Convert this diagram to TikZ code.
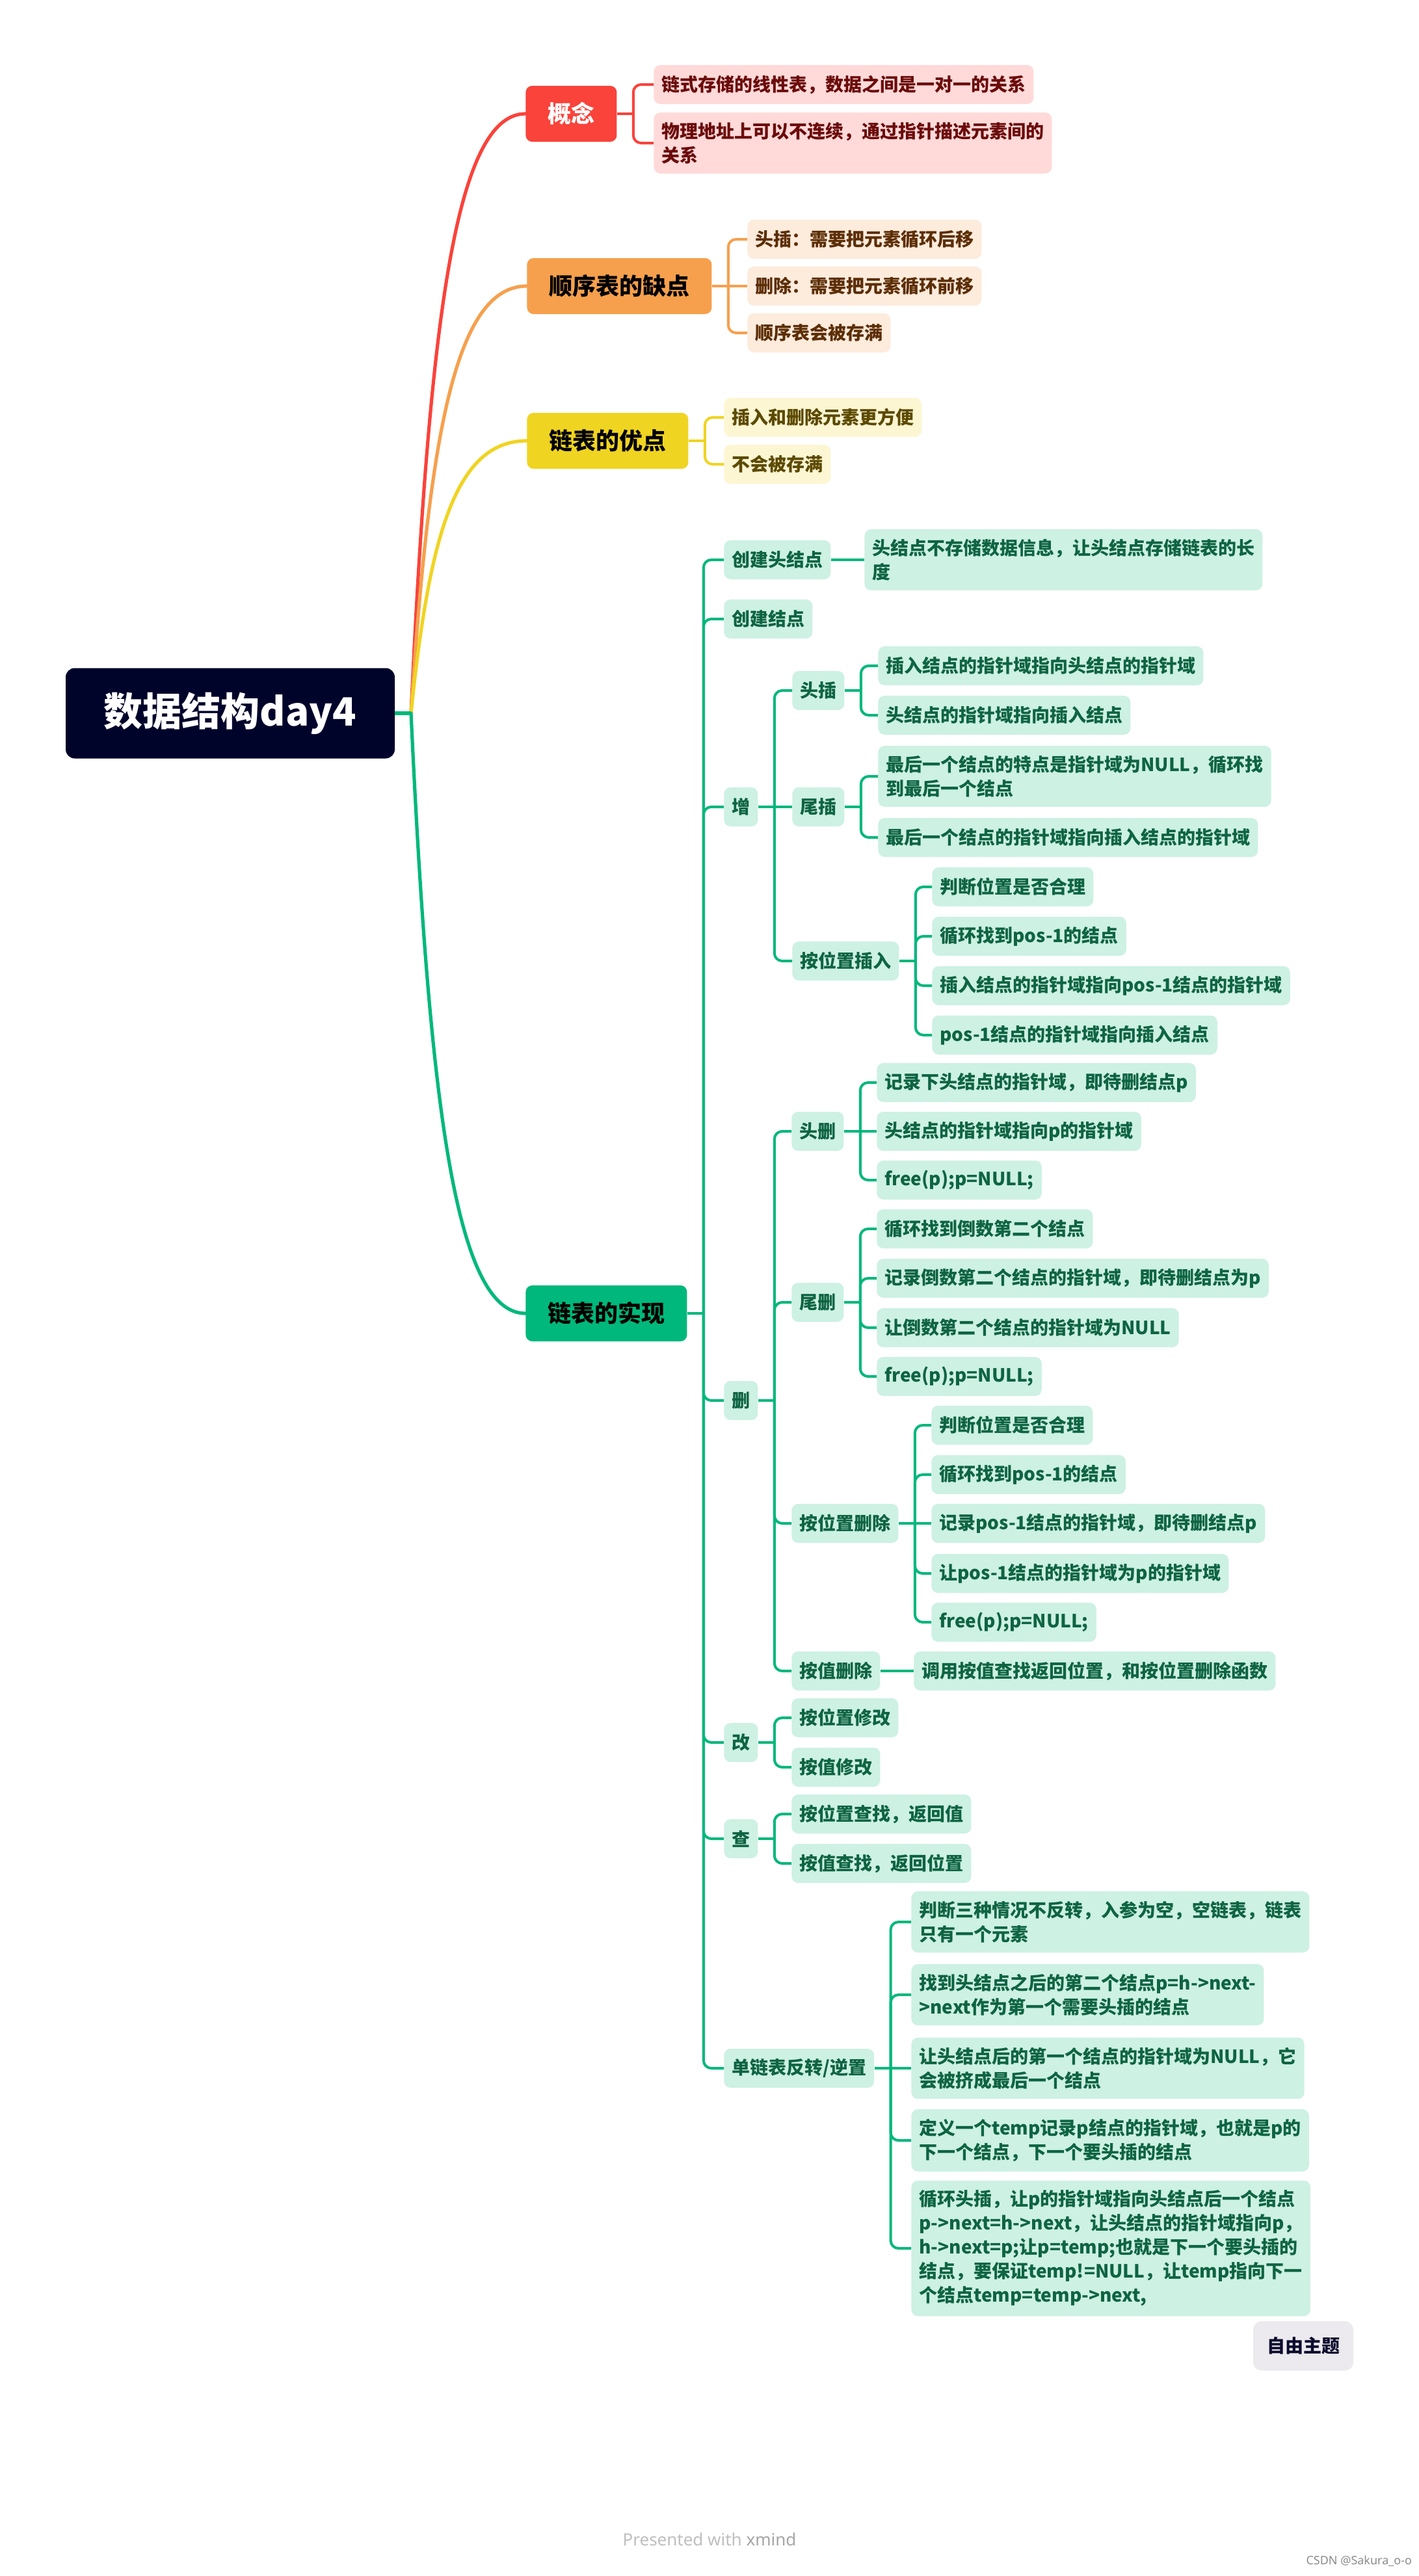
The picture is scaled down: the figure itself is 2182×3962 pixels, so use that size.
\documentclass[tikz,border=0pt]{standalone}
\usepackage{fontspec}
\setmainfont{Noto Sans CJK SC}
\newfontfamily\latinfont{Noto Sans}
\definecolor{rootc}{HTML}{00032A}
\definecolor{redM}{HTML}{F9433B}
\definecolor{redL}{HTML}{FFDAD9}
\definecolor{redT}{HTML}{6B0B0B}
\definecolor{orgM}{HTML}{F6A04D}
\definecolor{orgL}{HTML}{FDEBDC}
\definecolor{orgT}{HTML}{5C2E05}
\definecolor{yelM}{HTML}{F0D422}
\definecolor{yelL}{HTML}{FDF6D3}
\definecolor{yelT}{HTML}{5C4A00}
\definecolor{grnM}{HTML}{00B87B}
\definecolor{grnL}{HTML}{CDF1E3}
\definecolor{grnT}{HTML}{0E6443}
\definecolor{freeL}{HTML}{ECEAEE}
\definecolor{freeT}{HTML}{0B0B2E}
\tikzset{
  leaf/.style={rounded corners=5pt, inner xsep=6pt, inner ysep=7.5pt, minimum height=30pt,
    anchor=west, align=left, font=\bfseries\fontsize{14}{18.5}\selectfont},
  rleaf/.style={leaf, fill=redL, text=redT},
  oleaf/.style={leaf, fill=orgL, text=orgT},
  yleaf/.style={leaf, fill=yelL, text=yelT},
  gleaf/.style={leaf, fill=grnL, text=grnT},
  mainbox/.style={rounded corners=5pt, inner xsep=17pt, minimum height=43pt, anchor=west,
    font=\bfseries\fontsize{18}{22}\selectfont},
  curve/.style={line width=2.6pt, line cap=round},
  conn/.style={line width=2pt},
}
\newcommand\branch[3]{%
  \draw[conn,#1] (#2.east) -- ++(25,0);
  \foreach \cc in {#3} {\draw[conn,#1,rounded corners=6pt] (#2.east) ++(25,0) |- (\cc.west);}%
}
\begin{document}
\begin{tikzpicture}[x=0.5pt,y=-0.5pt]
\useasboundingbox (0,0) rectangle (2182,3962);
\fill[white] (0,0) rectangle (2182,3962);

% root
\node[fill=rootc, text=white, rounded corners=7pt, minimum width=253pt, minimum height=69.5pt,
  font=\bfseries\fontsize{30}{34}\selectfont] (root) at (354,1097) {数据结构day4};
\coordinate (hub) at (632,1097);

% main branches
\node[mainbox, fill=redM, text=white] (gn) at (808,175) {概念};
\node[mainbox, fill=orgM, text=black] (qd) at (810,440) {顺序表的缺点};
\node[mainbox, fill=yelM, text=black] (yd) at (810,678) {链表的优点};
\node[mainbox, fill=grnM, text=black] (sx) at (808,2020) {链表的实现};

\draw[curve, redM] (hub) .. controls (660,497) and (700,175) .. (gn.west);
\draw[curve, orgM] (hub) .. controls (660,670) and (700,440) .. (qd.west);
\draw[curve, yelM] (hub) .. controls (660,825) and (700,678) .. (yd.west);
\draw[curve, grnM] (hub) .. controls (660,1697) and (700,2020) .. (sx.west);
\draw[curve, grnM, line cap=butt] (root.east) -- (hub);

% 概念
\node[rleaf] (r1) at (1005,130) {链式存储的线性表，数据之间是一对一的关系};
\node[rleaf] (r2) at (1005,220) {物理地址上可以不连续，通过指针描述元素间的\\关系};
\branch{redM}{gn}{r1,r2}

% 顺序表的缺点
\node[oleaf] (o1) at (1149,368) {头插：需要把元素循环后移};
\node[oleaf] (o2) at (1149,440) {删除：需要把元素循环前移};
\node[oleaf] (o3) at (1149,512) {顺序表会被存满};
\branch{orgM}{qd}{o1,o3}
\draw[conn, orgM] (qd.east) -- (o2.west);

% 链表的优点
\node[yleaf] (y1) at (1113,642) {插入和删除元素更方便};
\node[yleaf] (y2) at (1113,714) {不会被存满};
\branch{yelM}{yd}{y1,y2}

% 链表的实现 - level 1
\node[gleaf] (g1) at (1113,861) {创建头结点};
\node[gleaf] (g2) at (1113,952) {创建结点};
\node[gleaf] (g3) at (1113,1241) {增};
\node[gleaf] (g4) at (1113,2154) {删};
\node[gleaf] (g5) at (1113,2680) {改};
\node[gleaf] (g6) at (1113,2828) {查};
\node[gleaf] (g7) at (1113,3181) {单链表反转/逆置};
\branch{grnM}{sx}{g1,g2,g3,g4,g5,g6,g7}

\node[gleaf] (g1a) at (1329,861) {头结点不存储数据信息，让头结点存储链表的长\\度};
\draw[conn, grnM] (g1.east) -- (g1a.west);

% 增
\node[gleaf] (hc) at (1218,1062) {头插};
\node[gleaf] (wc) at (1218,1241) {尾插};
\node[gleaf] (ac) at (1218,1478) {按位置插入};
\branch{grnM}{g3}{hc,ac}
\draw[conn, grnM] (g3.east) -- (wc.west);

\node[gleaf] (hc1) at (1350,1024) {插入结点的指针域指向头结点的指针域};
\node[gleaf] (hc2) at (1350,1100) {头结点的指针域指向插入结点};
\branch{grnM}{hc}{hc1,hc2}

\node[gleaf] (wc1) at (1350,1194) {最后一个结点的特点是指针域为NULL，循环找\\到最后一个结点};
\node[gleaf] (wc2) at (1350,1288) {最后一个结点的指针域指向插入结点的指针域};
\branch{grnM}{wc}{wc1,wc2}

\node[gleaf] (ac1) at (1433,1364) {判断位置是否合理};
\node[gleaf] (ac2) at (1433,1440) {循环找到pos-1的结点};
\node[gleaf] (ac3) at (1433,1516) {插入结点的指针域指向pos-1结点的指针域};
\node[gleaf] (ac4) at (1433,1592) {pos-1结点的指针域指向插入结点};
\branch{grnM}{ac}{ac1,ac2,ac3,ac4}

% 删
\node[gleaf] (hs) at (1217,1740) {头删};
\node[gleaf] (ws) at (1217,2003) {尾删};
\node[gleaf] (as) at (1217,2343) {按位置删除};
\node[gleaf] (vs) at (1217,2570) {按值删除};
\branch{grnM}{g4}{hs,ws,as,vs}

\node[gleaf] (hs1) at (1348,1665) {记录下头结点的指针域，即待删结点p};
\node[gleaf] (hs2) at (1348,1740) {头结点的指针域指向p的指针域};
\node[gleaf] (hs3) at (1348,1815) {free(p);p=NULL;};
\branch{grnM}{hs}{hs1,hs3}
\draw[conn, grnM] (hs.east) -- (hs2.west);

\node[gleaf] (ws1) at (1348,1890) {循环找到倒数第二个结点};
\node[gleaf] (ws2) at (1348,1966) {记录倒数第二个结点的指针域，即待删结点为p};
\node[gleaf] (ws3) at (1348,2042) {让倒数第二个结点的指针域为NULL};
\node[gleaf] (ws4) at (1348,2117) {free(p);p=NULL;};
\branch{grnM}{ws}{ws1,ws2,ws3,ws4}

\node[gleaf] (as1) at (1432,2192) {判断位置是否合理};
\node[gleaf] (as2) at (1432,2268) {循环找到pos-1的结点};
\node[gleaf] (as3) at (1432,2343) {记录pos-1结点的指针域，即待删结点p};
\node[gleaf] (as4) at (1432,2420) {让pos-1结点的指针域为p的指针域};
\node[gleaf] (as5) at (1432,2495) {free(p);p=NULL;};
\branch{grnM}{as}{as1,as2,as4,as5}
\draw[conn, grnM] (as.east) -- (as3.west);

\node[gleaf] (vs1) at (1405,2570) {调用按值查找返回位置，和按位置删除函数};
\draw[conn, grnM] (vs.east) -- (vs1.west);

% 改
\node[gleaf] (m1) at (1217,2642) {按位置修改};
\node[gleaf] (m2) at (1217,2718) {按值修改};
\branch{grnM}{g5}{m1,m2}

% 查
\node[gleaf] (c1) at (1217,2790) {按位置查找，返回值};
\node[gleaf] (c2) at (1217,2866) {按值查找，返回位置};
\branch{grnM}{g6}{c1,c2}

% 单链表反转/逆置
\node[gleaf] (n1) at (1401,2956) {判断三种情况不反转，入参为空，空链表，链表\\只有一个元素};
\node[gleaf] (n2) at (1401,3068) {找到头结点之后的第二个结点p=h->next-\\>next作为第一个需要头插的结点};
\node[gleaf] (n3) at (1401,3181) {让头结点后的第一个结点的指针域为NULL，它\\会被挤成最后一个结点};
\node[gleaf] (n4) at (1401,3292) {定义一个temp记录p结点的指针域，也就是p的\\下一个结点，下一个要头插的结点};
\node[gleaf] (n5) at (1401,3458) {循环头插，让p的指针域指向头结点后一个结点\\p->next=h->next，让头结点的指针域指向p，\\h->next=p;让p=temp;也就是下一个要头插的\\结点，要保证temp!=NULL，让temp指向下一\\个结点temp=temp->next,};
\branch{grnM}{g7}{n1,n2,n4,n5}
\draw[conn, grnM] (g7.east) -- (n3.west);

% 自由主题
\node[fill=freeL, text=freeT, rounded corners=6.5pt, inner xsep=10.5pt, minimum height=38pt,
  font=\bfseries\fontsize{14}{18}\selectfont] (free) at (2004,3608) {自由主题};

% footer
\node[text=black!25, font=\latinfont\fontsize{13}{15}\selectfont] (pres) at (1091,3906) {Presented with {\color{black!35}\bfseries xmind}};
\node[anchor=east, text=black!45, font=\latinfont\fontsize{9}{11}\selectfont] (wm) at (2178,3939) {CSDN @Sakura\_o-o};
\end{tikzpicture}
\end{document}
